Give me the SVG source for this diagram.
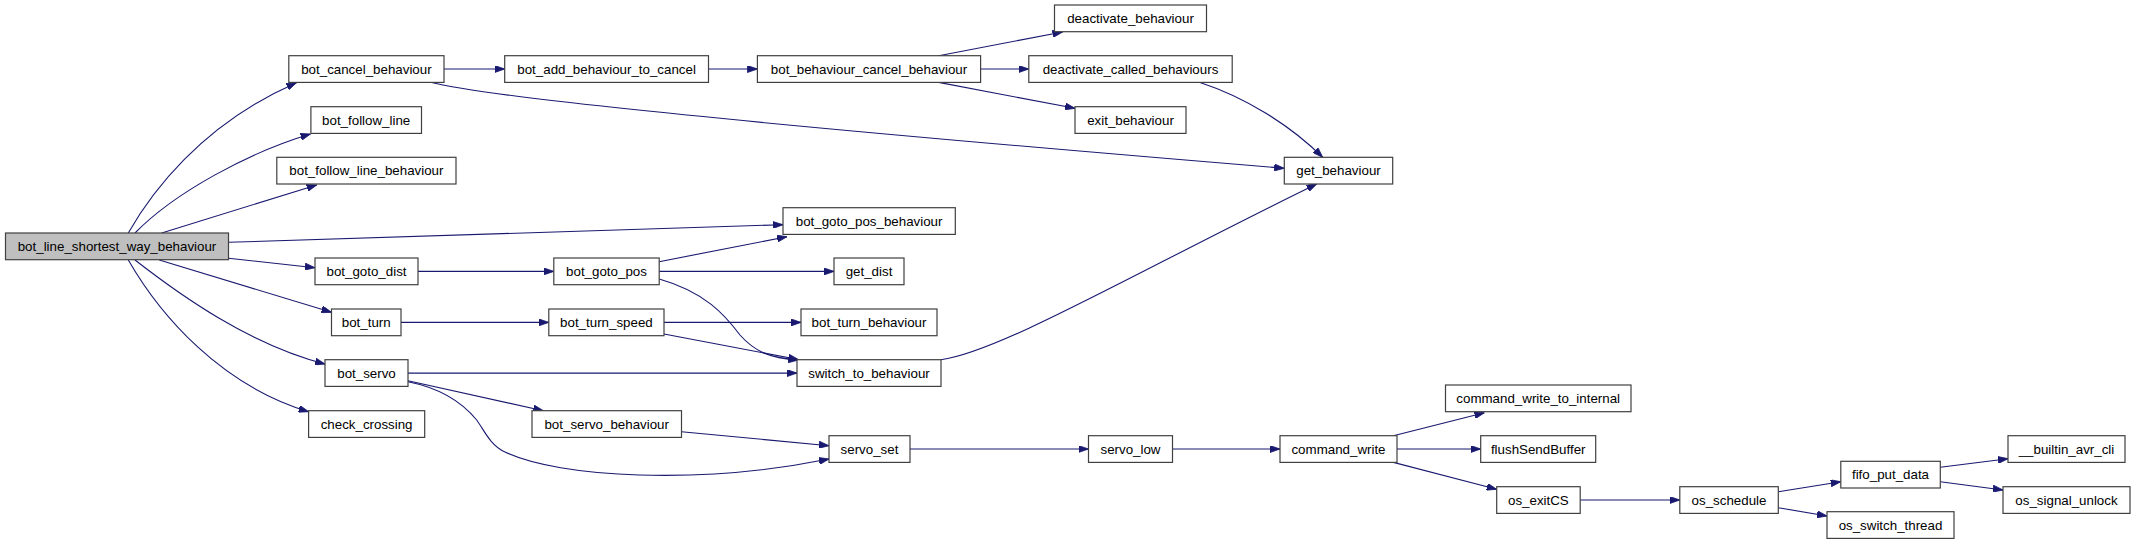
<svg xmlns="http://www.w3.org/2000/svg" width="2136" height="544" viewBox="0 0 2136 544">
<style>
.n rect{fill:#ffffff;stroke:#404040;stroke-width:1.2}
.n.main rect{fill:#bfbfbf}
.n text{font-family:"Liberation Sans",Arial,sans-serif;font-size:13.33px;fill:#000;text-anchor:middle}
.e path{fill:none;stroke:#191970;stroke-width:1.1;marker-end:url(#ah)}
</style>
<defs>
<marker id="ah" viewBox="0 0 10 7" refX="10" refY="3.5" markerWidth="10" markerHeight="7" orient="auto" markerUnits="userSpaceOnUse">
<path d="M0,0L10,3.5L0,7z" fill="#191970" stroke="#191970" stroke-width="0.8"/>
</marker>
</defs>
<rect width="2136" height="544" fill="#ffffff"/>
<g id="edges" class="e">
<path d="M128.3,233 C150,195 200,125 296.5,82.7"/>
<path d="M135,233 C175,192 250,152 310.5,134"/>
<path d="M161.7,233 L316.7,185"/>
<path d="M228.5,242.3 L783,224.7"/>
<path d="M228.5,258.3 L315,267.7"/>
<path d="M159.3,260 L331.5,312.3"/>
<path d="M135,260 C180,295 250,345 325,364"/>
<path d="M128.3,260 C160,315 220,385 308.6,411.7"/>
<path d="M444,69 L504.7,69"/>
<path d="M431.6,82.5 C480,95 700,120 1284.3,168.3"/>
<path d="M708.5,69 L757.4,69"/>
<path d="M938.7,55.7 L1062.6,32"/>
<path d="M980.6,69 L1028.8,69"/>
<path d="M938.7,82.4 L1075,108.3"/>
<path d="M1200,82.4 C1245,97 1290,125 1322.7,157.3"/>
<path d="M418,271.4 L553.8,271.4"/>
<path d="M659.2,261.7 L787,236.7"/>
<path d="M659.2,271.4 L834,271.4"/>
<path d="M659.2,279 C705,292 725,315 740,335 C755,352 770,358 798.3,360"/>
<path d="M401,322.4 L548.8,322.4"/>
<path d="M664,322.4 L801,322.4"/>
<path d="M664,334 L798.3,359.5"/>
<path d="M408,373.1 L797,373.1"/>
<path d="M408,380.7 L543.3,410.7"/>
<path d="M408,381.7 C440,388 462,402 476.7,420 C484,430 490,445 505,452 C560,478 700,485 829,459"/>
<path d="M681.5,431.7 L829,445.7"/>
<path d="M941,359.7 C1000,352 1140,270 1316.7,184"/>
<path d="M910,449 L1088.5,449"/>
<path d="M1172.5,449 L1280,449"/>
<path d="M1393.4,435.7 L1484.5,412.7"/>
<path d="M1397,449 L1480.7,449"/>
<path d="M1393.4,462.4 L1496.7,489.3"/>
<path d="M1580.2,500 L1679.8,500"/>
<path d="M1778.3,491.7 L1840.8,481.7"/>
<path d="M1778.3,507.7 L1827,516"/>
<path d="M1940.3,467.3 L2008,458.7"/>
<path d="M1940.3,481.7 L2003,490"/>
</g>
<g id="n_main" class="n main"><rect x="5.5" y="233" width="223" height="26.7"/><text x="117" y="251">bot_line_shortest_way_behaviour</text></g>
<g id="n_bot_cancel_behaviour" class="n"><rect x="288.8" y="55.7" width="155.2" height="26.7"/><text x="366.4" y="73.7">bot_cancel_behaviour</text></g>
<g id="n_bot_follow_line" class="n"><rect x="310.9" y="106.7" width="110.6" height="26.7"/><text x="366.2" y="124.7">bot_follow_line</text></g>
<g id="n_bot_follow_line_behaviour" class="n"><rect x="276.8" y="157.3" width="179.2" height="26.7"/><text x="366.4" y="175.3">bot_follow_line_behaviour</text></g>
<g id="n_bot_goto_dist" class="n"><rect x="315" y="258" width="103" height="26.7"/><text x="366.5" y="276">bot_goto_dist</text></g>
<g id="n_bot_turn" class="n"><rect x="331.5" y="309" width="69.5" height="26.7"/><text x="366.2" y="327">bot_turn</text></g>
<g id="n_bot_servo" class="n"><rect x="325" y="359.7" width="83" height="26.7"/><text x="366.5" y="377.7">bot_servo</text></g>
<g id="n_check_crossing" class="n"><rect x="308.6" y="410.7" width="116.1" height="26.7"/><text x="366.6" y="428.7">check_crossing</text></g>
<g id="n_bot_add_behaviour_to_cancel" class="n"><rect x="504.7" y="55.7" width="203.8" height="26.7"/><text x="606.6" y="73.7">bot_add_behaviour_to_cancel</text></g>
<g id="n_bot_goto_pos" class="n"><rect x="553.8" y="258" width="105.4" height="26.7"/><text x="606.5" y="276">bot_goto_pos</text></g>
<g id="n_bot_turn_speed" class="n"><rect x="548.8" y="309" width="115.2" height="26.7"/><text x="606.4" y="327">bot_turn_speed</text></g>
<g id="n_bot_servo_behaviour" class="n"><rect x="532" y="410.7" width="149.5" height="26.7"/><text x="606.7" y="428.7">bot_servo_behaviour</text></g>
<g id="n_bot_behaviour_cancel_behaviour" class="n"><rect x="757.4" y="55.7" width="223.2" height="26.7"/><text x="869" y="73.7">bot_behaviour_cancel_behaviour</text></g>
<g id="n_bot_goto_pos_behaviour" class="n"><rect x="783" y="207.7" width="172.3" height="26.7"/><text x="869.1" y="225.7">bot_goto_pos_behaviour</text></g>
<g id="n_get_dist" class="n"><rect x="834" y="258" width="70" height="26.7"/><text x="869" y="276">get_dist</text></g>
<g id="n_bot_turn_behaviour" class="n"><rect x="801" y="309" width="136" height="26.7"/><text x="869" y="327">bot_turn_behaviour</text></g>
<g id="n_switch_to_behaviour" class="n"><rect x="797" y="359.7" width="144" height="26.7"/><text x="869" y="377.7">switch_to_behaviour</text></g>
<g id="n_servo_set" class="n"><rect x="829" y="435.7" width="81" height="26.7"/><text x="869.5" y="453.7">servo_set</text></g>
<g id="n_deactivate_behaviour" class="n"><rect x="1054.5" y="5" width="152" height="26.7"/><text x="1130.5" y="23">deactivate_behaviour</text></g>
<g id="n_deactivate_called_behaviours" class="n"><rect x="1028.8" y="55.7" width="203.4" height="26.7"/><text x="1130.5" y="73.7">deactivate_called_behaviours</text></g>
<g id="n_exit_behaviour" class="n"><rect x="1075" y="106.7" width="111" height="26.7"/><text x="1130.5" y="124.7">exit_behaviour</text></g>
<g id="n_servo_low" class="n"><rect x="1088.5" y="435.7" width="84" height="26.7"/><text x="1130.5" y="453.7">servo_low</text></g>
<g id="n_get_behaviour" class="n"><rect x="1284.3" y="157.3" width="108.4" height="26.7"/><text x="1338.5" y="175.3">get_behaviour</text></g>
<g id="n_command_write" class="n"><rect x="1280" y="435.7" width="117" height="26.7"/><text x="1338.5" y="453.7">command_write</text></g>
<g id="n_command_write_to_internal" class="n"><rect x="1445.5" y="385" width="185.5" height="26.7"/><text x="1538.2" y="403">command_write_to_internal</text></g>
<g id="n_flushSendBuffer" class="n"><rect x="1480.7" y="435.7" width="115" height="26.7"/><text x="1538.2" y="453.7">flushSendBuffer</text></g>
<g id="n_os_exitCS" class="n"><rect x="1496.7" y="486.7" width="83.5" height="26.7"/><text x="1538.4" y="504.7">os_exitCS</text></g>
<g id="n_os_schedule" class="n"><rect x="1679.8" y="486.7" width="98.5" height="26.7"/><text x="1729" y="504.7">os_schedule</text></g>
<g id="n_fifo_put_data" class="n"><rect x="1840.8" y="461.3" width="99.5" height="26.7"/><text x="1890.5" y="479.3">fifo_put_data</text></g>
<g id="n_os_switch_thread" class="n"><rect x="1827" y="511.7" width="127" height="26.7"/><text x="1890.5" y="529.7">os_switch_thread</text></g>
<g id="n___builtin_avr_cli" class="n"><rect x="2008" y="435.7" width="117" height="26.7"/><text x="2066.5" y="453.7">__builtin_avr_cli</text></g>
<g id="n_os_signal_unlock" class="n"><rect x="2003" y="486.7" width="127" height="26.7"/><text x="2066.5" y="504.7">os_signal_unlock</text></g>
</svg>
